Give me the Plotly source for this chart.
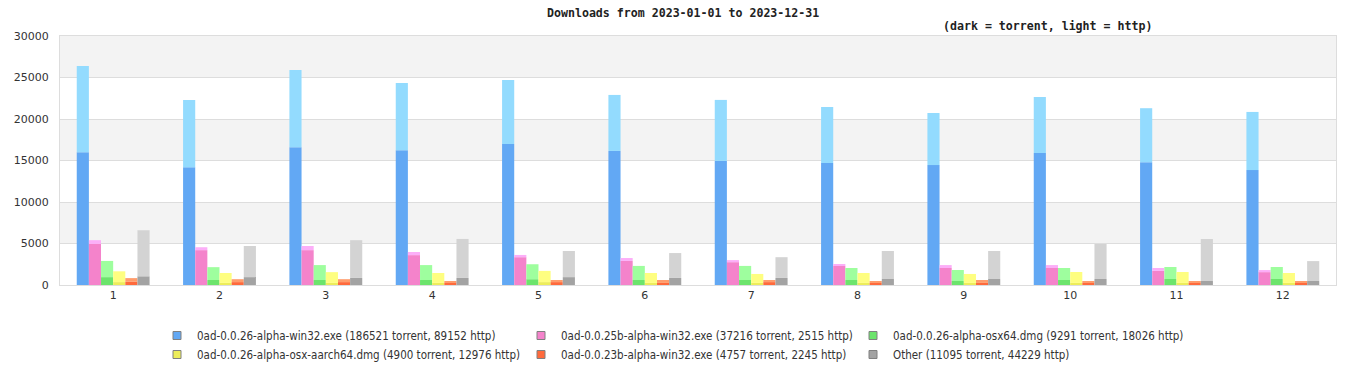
import plotly.graph_objects as go

months = [str(m) for m in range(1, 13)]

series_names = [
    "0ad-0.0.26-alpha-win32.exe (186521 torrent, 89152 http)",
    "0ad-0.0.25b-alpha-win32.exe (37216 torrent, 2515 http)",
    "0ad-0.0.26-alpha-osx64.dmg (9291 torrent, 18026 http)",
    "0ad-0.0.26-alpha-osx-aarch64.dmg (4900 torrent, 12976 http)",
    "0ad-0.0.23b-alpha-win32.exe (4757 torrent, 2245 http)",
    "Other (11095 torrent, 44229 http)",
]

win32_torrent = [16000, 14200, 16600, 16250, 17000, 16150, 14950, 14700, 14450, 15900, 14800, 13850]
win32_http = [10400, 8100, 9300, 8100, 7700, 6750, 7350, 6750, 6270, 6750, 6500, 7000]
a25b_torrent = [4950, 4200, 4200, 3600, 3350, 2900, 2750, 2300, 2050, 2050, 1700, 1550]
a25b_http = [450, 350, 500, 380, 270, 350, 250, 230, 350, 350, 350, 250]
osx64_torrent = [950, 600, 600, 600, 700, 600, 600, 600, 480, 600, 720, 720]
osx64_http = [1950, 1550, 1800, 1800, 1800, 1700, 1700, 1450, 1330, 1450, 1450, 1450]
aarch64_torrent = [350, 250, 250, 250, 350, 250, 250, 250, 250, 250, 250, 250]
aarch64_http = [1300, 1200, 1300, 1200, 1350, 1200, 1080, 1200, 1080, 1320, 1320, 1200]
a23b_torrent = [380, 350, 350, 250, 350, 250, 350, 250, 250, 250, 250, 250]
a23b_http = [450, 350, 350, 230, 250, 350, 250, 230, 350, 230, 120, 120]
other_torrent = [1050, 950, 850, 850, 950, 850, 850, 720, 720, 720, 480, 480]
other_http = [5550, 3750, 4550, 4700, 3150, 3000, 2500, 3380, 3380, 4220, 5060, 2400]

torrent = [win32_torrent, a25b_torrent, osx64_torrent, aarch64_torrent, a23b_torrent, other_torrent]
http = [win32_http, a25b_http, osx64_http, aarch64_http, a23b_http, other_http]

dark_colors = ["#62a8f4", "#f483cb", "#6ce46c", "#eded5a", "#ff6a3c", "#a3a3a3"]
light_colors = ["#93dbfe", "#fcaef8", "#9efe9e", "#fefe80", "#ff9c6c", "#d3d3d3"]

y_ticks = [0, 5000, 10000, 15000, 20000, 25000, 30000]

W, H = 1366, 380
ML, MR, MT, MB = 60, 30, 36, 95
PW, PH = W - ML - MR, H - MT - MB


def px_to_paper_y(py):
    return (H - MB - py) / PH


def px_to_paper_x(px):
    return (px - ML) / PW


fig = go.Figure()
for i in range(6):
    fig.add_trace(go.Bar(
        x=months, y=torrent[i], offsetgroup=str(i),
        marker=dict(color=dark_colors[i], line=dict(width=0)),
        showlegend=False, hoverinfo="skip",
    ))
    fig.add_trace(go.Bar(
        x=months, y=http[i], base=torrent[i], offsetgroup=str(i),
        marker=dict(color=light_colors[i], line=dict(width=0)),
        showlegend=False, hoverinfo="skip",
    ))

# legend-only entries, drawn on hidden axes so they never appear in the plot
legend_cols = [[0, 3], [1, 4], [2, 5]]
legend_ids = ["legend", "legend2", "legend3"]
legend_x = [157, 521, 853]
for col, lid in zip(legend_cols, legend_ids):
    for i in col:
        fig.add_trace(go.Scatter(
            x=[0], y=[0], mode="markers", name=series_names[i],
            xaxis="x2", yaxis="y2", hoverinfo="skip",
            marker=dict(symbol="square", size=8, color=dark_colors[i],
                        line=dict(color="#808080", width=1)),
            legend=lid, showlegend=True,
        ))

legend_font = dict(family="DejaVu Sans Condensed, DejaVu Sans, sans-serif", size=11.5, color="#333")
legend_common = dict(
    orientation="v", xref="paper", yref="paper",
    xanchor="left", yanchor="top", y=px_to_paper_y(321),
    bgcolor="rgba(0,0,0,0)", font=legend_font, itemwidth=30,
    tracegroupgap=0, traceorder="normal",
)

# alternating background bands between gridlines
shapes = []
for k in range(len(y_ticks) - 1):
    if k % 2 == 1:
        shapes.append(dict(
            type="rect", xref="paper", yref="y", layer="below",
            x0=0, x1=1, y0=y_ticks[k], y1=y_ticks[k + 1],
            fillcolor="#f3f3f3", line=dict(width=0),
        ))

fig.update_layout(
    width=W, height=H,
    margin=dict(l=ML, r=MR, t=MT, b=MB, autoexpand=False),
    paper_bgcolor="white", plot_bgcolor="white",
    barmode="group", bargap=0.315, bargroupgap=0,
    shapes=shapes,
    legend=dict(legend_common, x=px_to_paper_x(legend_x[0])),
    legend2=dict(legend_common, x=px_to_paper_x(legend_x[1])),
    legend3=dict(legend_common, x=px_to_paper_x(legend_x[2])),
    font=dict(family="DejaVu Sans, sans-serif", size=11, color="#333"),
    xaxis=dict(type="category", showgrid=False, showline=True, linecolor="#dddddd",
               linewidth=1, mirror=True, ticks="", tickfont=dict(size=11, color="#333")),
    yaxis=dict(range=[0, 30000], tickvals=y_ticks, ticktext=[str(v) for v in y_ticks],
               showgrid=True, gridcolor="#dddddd", gridwidth=1, zeroline=False,
               showline=True, linecolor="#dddddd", linewidth=1, mirror=True,
               ticks="", tickfont=dict(size=11, color="#333"), ticklabelstandoff=8),
    xaxis2=dict(overlaying="x", visible=False, range=[1, 2]),
    yaxis2=dict(overlaying="y", visible=False, range=[1, 2]),
    annotations=[
        dict(text="<b>Downloads from 2023-01-01 to 2023-12-31</b>",
             xref="paper", yref="paper", x=px_to_paper_x(683), y=px_to_paper_y(13),
             xanchor="center", yanchor="middle", showarrow=False,
             font=dict(family="DejaVu Sans Mono, monospace", size=11.6, color="#222")),
        dict(text="<b>(dark = torrent, light = http)</b>",
             xref="paper", yref="paper", x=px_to_paper_x(1047), y=px_to_paper_y(26),
             xanchor="center", yanchor="middle", showarrow=False,
             font=dict(family="DejaVu Sans Mono, monospace", size=11.6, color="#222")),
    ],
)

fig.write_html("out.html")
